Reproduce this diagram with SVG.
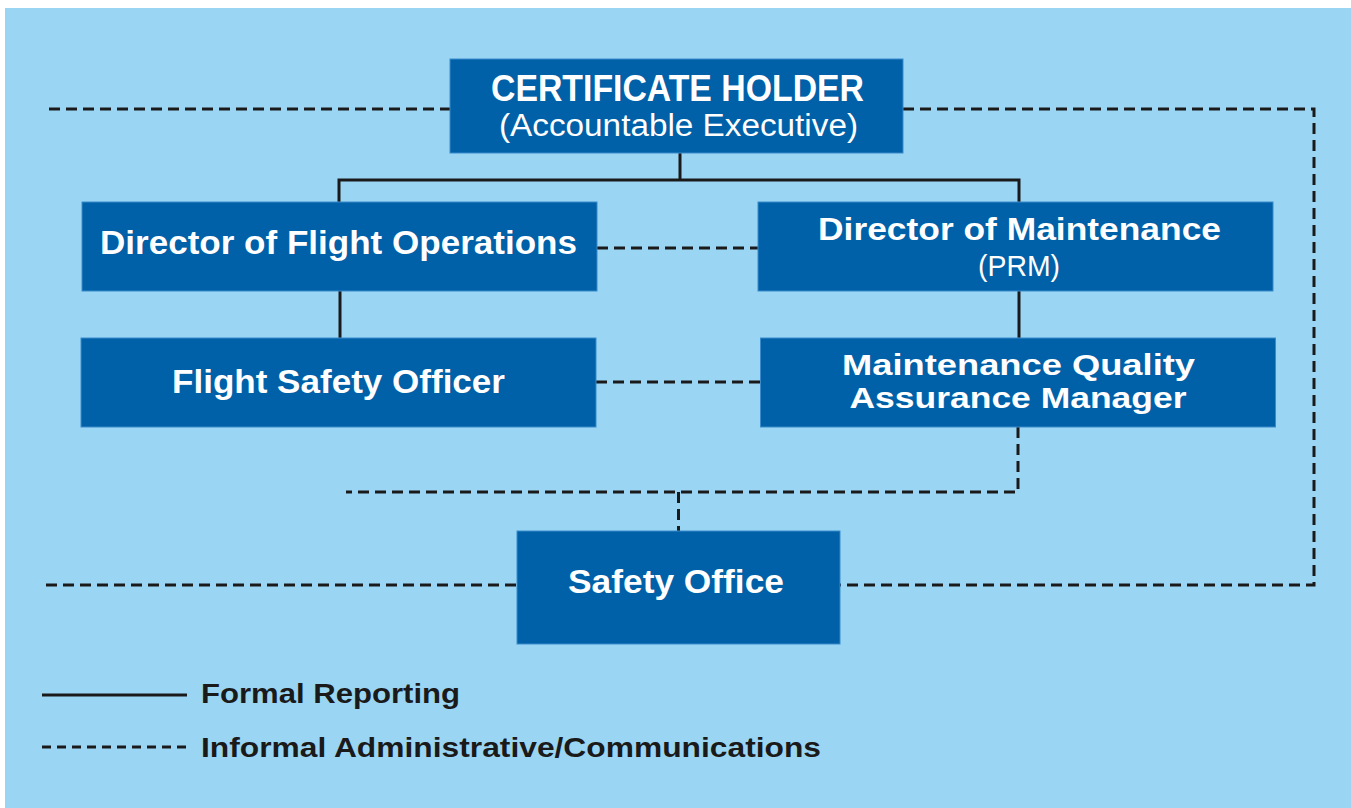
<svg xmlns="http://www.w3.org/2000/svg" width="1351" height="808" viewBox="0 0 1351 808">
<style>
.box{fill:#0061A8;stroke:#3A8BCB;stroke-width:1}
.t{font-family:"Liberation Sans",Arial,sans-serif;font-weight:bold;fill:#ffffff;text-anchor:middle}
.tl{font-family:"Liberation Sans",Arial,sans-serif;font-weight:normal;fill:#ffffff;text-anchor:middle}
.lg{font-family:"Liberation Sans",Arial,sans-serif;font-weight:bold;fill:#1a1a1a}
.solid{fill:none;stroke:#1a1a1a;stroke-width:3}
.dash{fill:none;stroke:#1a1a1a;stroke-width:3;stroke-dasharray:11 6}
</style>
<rect x="0" y="0" width="1351" height="808" fill="#ffffff"/>
<rect x="5" y="8" width="1346" height="800" fill="#9AD6F4"/>
<g id="connectors">
<polyline class="solid" points="680,153 680,180"/>
<polyline class="solid" points="339,202 339,180 1019,180 1019,202"/>
<polyline class="solid" points="340,291 340,338"/>
<polyline class="solid" points="1019,291 1019,338"/>
<polyline class="dash" points="49,109 450,109"/>
<polyline class="dash" points="903,109 1314,109 1314,585 840,585"/>
<polyline class="dash" points="46,585 517,585"/>
<polyline class="dash" points="597,248 758,248"/>
<polyline class="dash" points="596,382 760,382"/>
<polyline class="dash" points="1018,427 1018,492 346,492"/>
<polyline class="dash" points="678.5,492 678.5,531"/>
</g>
<g id="certificate-holder">
<rect class="box" x="450" y="59" width="453" height="94"/>
<text class="t" x="677.5" y="101" font-size="36" textLength="373" lengthAdjust="spacingAndGlyphs">CERTIFICATE HOLDER</text>
<text class="tl" x="678.5" y="136" font-size="31" textLength="359" lengthAdjust="spacingAndGlyphs">(Accountable Executive)</text>
</g>
<g id="director-flight-operations">
<rect class="box" x="82" y="202" width="515" height="89"/>
<text class="t" x="338.5" y="254" font-size="33" textLength="477" lengthAdjust="spacingAndGlyphs">Director of Flight Operations</text>
</g>
<g id="director-maintenance">
<rect class="box" x="758" y="202" width="515" height="89"/>
<text class="t" x="1019.5" y="240" font-size="32" textLength="403" lengthAdjust="spacingAndGlyphs">Director of Maintenance</text>
<text class="tl" x="1019" y="276" font-size="30" textLength="82" lengthAdjust="spacingAndGlyphs">(PRM)</text>
</g>
<g id="flight-safety-officer">
<rect class="box" x="81" y="338" width="515" height="89"/>
<text class="t" x="338.5" y="393" font-size="33" textLength="333" lengthAdjust="spacingAndGlyphs">Flight Safety Officer</text>
</g>
<g id="maintenance-quality-assurance-manager">
<rect class="box" x="760.5" y="338" width="515" height="89"/>
<text class="t" x="1018.5" y="375" font-size="29" textLength="353" lengthAdjust="spacingAndGlyphs">Maintenance Quality</text>
<text class="t" x="1018" y="408" font-size="29" textLength="337" lengthAdjust="spacingAndGlyphs">Assurance Manager</text>
</g>
<g id="safety-office">
<rect class="box" x="517" y="531" width="323" height="113"/>
<text class="t" x="676" y="593" font-size="33" textLength="216" lengthAdjust="spacingAndGlyphs">Safety Office</text>
</g>
<g id="legend">
<line class="solid" x1="42" y1="695" x2="187" y2="695"/>
<text class="lg" x="201" y="703" font-size="28" textLength="259" lengthAdjust="spacingAndGlyphs">Formal Reporting</text>
<line class="dash" x1="42" y1="747" x2="187" y2="747" style="stroke-dasharray:9 6"/>
<text class="lg" x="201" y="757" font-size="28" textLength="620" lengthAdjust="spacingAndGlyphs">Informal Administrative/Communications</text>
</g>
</svg>
